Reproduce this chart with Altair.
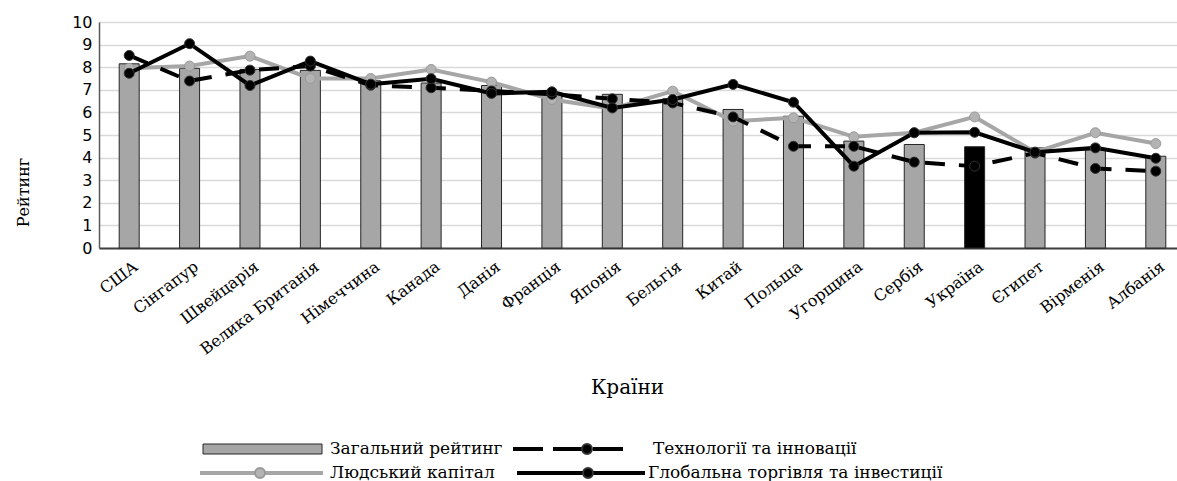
import altair as alt
import pandas as pd

# Countries in ranking order
countries = ["США", "Сінгапур", "Швейцарія", "Велика Британія", "Німеччина", "Канада",
             "Данія", "Франція", "Японія", "Бельгія", "Китай", "Польща", "Угорщина",
             "Сербія", "Україна", "Єгипет", "Вірменія", "Албанія"]

# Index values (0-10 scale)
overall = [8.15, 7.95, 7.9, 7.86, 7.4, 7.3, 7.19, 6.85, 6.8, 6.6, 6.13, 5.83,
           4.73, 4.58, 4.48, 4.43, 4.35, 4.06]
human_capital = [7.95, 8.05, 8.49, 7.5, 7.5, 7.9, 7.34, 6.57, 6.16, 6.94, 5.61, 5.76,
                 4.92, 5.1, 5.8, 4.24, 5.1, 4.62]
technology = [8.52, 7.39, 7.87, 8.05, 7.2, 7.09, 6.95, 6.8, 6.6, 6.42, 5.8, 4.5,
              4.5, 3.8, 3.62, 4.2, 3.52, 3.4]
global_trade = [7.73, 9.04, 7.19, 8.27, 7.25, 7.49, 6.84, 6.91, 6.2, 6.57, 7.24, 6.45,
                3.62, 5.1, 5.12, 4.24, 4.43, 3.97]

highlight = "Україна"

SERIF = "DejaVu Serif"
SANS = "DejaVu Sans"
GREY = "#a6a6a6"

df = pd.DataFrame({
    "country": countries,
    "overall": overall,
    "human": human_capital,
    "tech": technology,
    "trade": global_trade,
})

W, H = 1078, 226

x_axis = alt.Axis(
    title="Країни", labelAngle=-37, labelAlign="right", labelBaseline="top",
    labelFont=SERIF, labelFontSize=16, labelColor="black", labelPadding=10,
    labelOffset=2, ticks=False, domainColor="#404040", domainWidth=2,
    titleFont=SERIF, titleFontSize=20, titleFontWeight="normal", titleColor="black",
    titleX=528, titleY=145, titleAlign="center", titleBaseline="alphabetic",
    labelOverlap=False,
)
x_scale = alt.Scale(range=[0, 1087], paddingInner=0, paddingOuter=0)

y_scale = alt.Scale(domain=[0, 10], nice=False)
y_axis = alt.Axis(
    title="Рейтинг", values=list(range(0, 11)), grid=True, gridColor="#d9d9d9",
    gridWidth=1.5, ticks=False, domainColor="#595959", domainWidth=1.5,
    labelFont=SANS, labelFontSize=16, labelColor="black", labelPadding=7,
    labelOverlap=False,
    titleFont=SERIF, titleFontSize=16, titleFontWeight="normal", titleColor="black",
    titleX=-76, titleY=170, titleAlign="center", titleBaseline="middle", titleAngle=-90,
)


def xe():
    return alt.X("country:N", sort=countries, scale=x_scale, axis=x_axis)


def ye(field):
    return alt.Y(f"{field}:Q", scale=y_scale, axis=y_axis)


base = alt.Chart(df)

bars = base.mark_bar(size=20, stroke="#262626", strokeWidth=1).encode(
    x=xe(),
    y=ye("overall"),
    color=alt.condition(alt.datum.country == highlight, alt.value("black"), alt.value(GREY)),
)


def series(field, color, dash=None, marker_fill="black", marker_stroke="#333333"):
    kw = dict(strokeWidth=4, color=color, strokeCap="butt")
    if dash:
        kw["strokeDash"] = dash
    line = base.mark_line(**kw).encode(x=xe(), y=ye(field))
    pts = base.mark_point(filled=True, size=100, opacity=1, fill=marker_fill,
                          stroke=marker_stroke, strokeWidth=1).encode(x=xe(), y=ye(field))
    return [line, pts]


layers = [bars]
layers += series("human", GREY, marker_fill="#b3b3b3", marker_stroke="#999999")
layers += series("tech", "black", dash=[20, 14])
layers += series("trade", "black")

# Legend, drawn below the plot area
one = pd.DataFrame({"k": [0]})
leg = alt.Chart(one)
R1, R2 = 427, 451
legend_layers = [
    leg.mark_rect(fill=GREY, stroke="#262626", strokeWidth=1).encode(
        x=alt.value(104), x2=alt.value(223), y=alt.value(R1 - 5), y2=alt.value(R1 + 5)),
    leg.mark_rule(color="black", strokeWidth=4, strokeDash=[30, 10]).encode(
        x=alt.value(414), x2=alt.value(529), y=alt.value(R1)),
    leg.mark_point(filled=True, size=100, fill="black", stroke="#333333", opacity=1).encode(
        x=alt.value(488), y=alt.value(R1)),
    leg.mark_rule(color=GREY, strokeWidth=4).encode(
        x=alt.value(101), x2=alt.value(224), y=alt.value(R2)),
    leg.mark_point(filled=True, size=100, fill="#b3b3b3", stroke="#999999", opacity=1).encode(
        x=alt.value(161), y=alt.value(R2)),
    leg.mark_rule(color="black", strokeWidth=4).encode(
        x=alt.value(418), x2=alt.value(546), y=alt.value(R2)),
    leg.mark_point(filled=True, size=100, fill="black", stroke="#333333", opacity=1).encode(
        x=alt.value(489), y=alt.value(R2)),
]
texts = [
    ("Загальний рейтинг", 231, R1),
    ("Технології та інновації", 554, R1),
    ("Людський капітал", 231, R2),
    ("Глобальна торгівля та інвестиції", 549, R2),
]
for t, xx, yy in texts:
    legend_layers.append(
        leg.mark_text(align="left", baseline="middle", font=SERIF, fontSize=17,
                      color="black").encode(
            x=alt.value(xx), y=alt.value(yy), text=alt.value(t)))

chart = alt.layer(*layers, *legend_layers).properties(
    width=W, height=H,
    autosize=alt.AutoSizeParams(type="none"),
    padding={"left": 99, "top": 22, "right": 0, "bottom": 233},
).configure_view(stroke=None).configure(background="white")

chart.save("out.html", embed_options={"renderer": "svg", "actions": False})
